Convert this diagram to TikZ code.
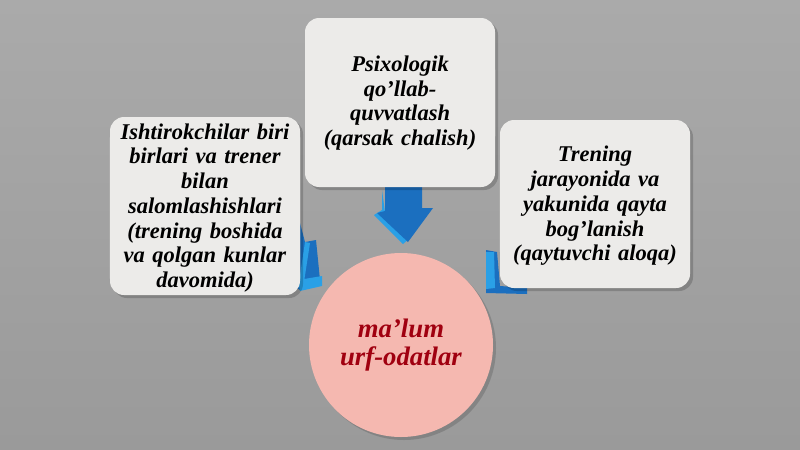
\documentclass[tikz,border=0pt]{standalone}
\usepackage{fontspec}
\setmainfont{Liberation Serif}
\begin{document}
\begin{tikzpicture}[x=0.025cm,y=-0.025cm,
  box/.style={draw=none,fill=boxgray,rounded corners=10pt,minimum width=190*0.025cm,align=center,
    font=\fontsize{16}{17.6}\selectfont\bfseries\itshape,text width=4.75cm,inner sep=0pt},
  shadowbox/.style={fill=black,opacity=0.18,rounded corners=10pt},
  darkblue/.style={fill=arrowdark,draw=none},
  lightblue/.style={fill=arrowlight,draw=none}]
\definecolor{boxgray}{RGB}{236,235,233}
\definecolor{bgtop}{RGB}{170,170,170}
\definecolor{bgbot}{RGB}{154,154,154}
\definecolor{arrowdark}{RGB}{27,111,191}
\definecolor{arrowlight}{RGB}{42,160,230}
\definecolor{circfill}{RGB}{245,184,176}
\definecolor{circtext}{RGB}{160,0,16}
% background
\shade[top color=bgtop,bottom color=bgbot] (0,0) rectangle (800,449);
\useasboundingbox (0,0) rectangle (800,449);
% arrows (behind boxes)
% top arrow
\fill[lightblue] (382,190) -- (382,210) -- (374,215) -- (403,244) -- (410,238) -- (385,212) -- cycle;
\fill[darkblue] (385,187) -- (422,187) -- (422,208) -- (433,208) -- (408,242) -- (377,213) -- (385,211) -- cycle;
% left arrow (mostly hidden)
\fill[darkblue] (260,200) -- (290,185) -- (305,242) -- (316,240) -- (320,280) -- (300,290) -- (270,270) -- cycle;
\fill[lightblue] (298,280) -- (322,276) -- (322,286) -- (300,291) -- cycle;
\fill[lightblue] (305,242) -- (310,243) -- (304,282) -- (299,282) -- cycle;
% right arrow (mostly hidden)
\fill[darkblue] (486,250) -- (497,252) -- (500,286) -- (527,288) -- (527,294) -- (486,293) -- cycle;
\fill[lightblue] (486,252) -- (494,252) -- (495,288) -- (486,289) -- cycle;
% shadows
\fill[shadowbox] (308,21) rectangle (498,190);
\fill[shadowbox] (113,120) rectangle (303,298);
\fill[shadowbox] (503,123) rectangle (693,291);
% boxes
\fill[boxgray,rounded corners=10pt] (305,18) rectangle (495,187);
\fill[boxgray,rounded corners=10pt] (110,117) rectangle (300,295);
\fill[boxgray,rounded corners=10pt] (500,120) rectangle (690,288);
\node[box,text width=4.3cm] (top) at (400,103) {Psixologik\\qo’llab-\\quvvatlash\\(qarsak chalish)};
\node[box] (left) at (205,208) {Ishtirokchilar biri\\birlari va trener\\bilan\\salomlashishlari\\(trening boshida\\va qolgan kunlar\\davomida)};
\node[box] (right) at (595,206) {Trening\\jarayonida va\\yakunida qayta\\bog’lanish\\(qaytuvchi aloqa)};
% circle
\fill[black,opacity=0.15] (404,348) circle (92);
\node[circle,fill=circfill,minimum size=184*0.025cm,inner sep=0pt,align=center,
  font=\fontsize{19}{19.5}\selectfont\bfseries\itshape,text=circtext] (c) at (401,345) {ma’lum\\urf-odatlar};
\end{tikzpicture}
\end{document}
